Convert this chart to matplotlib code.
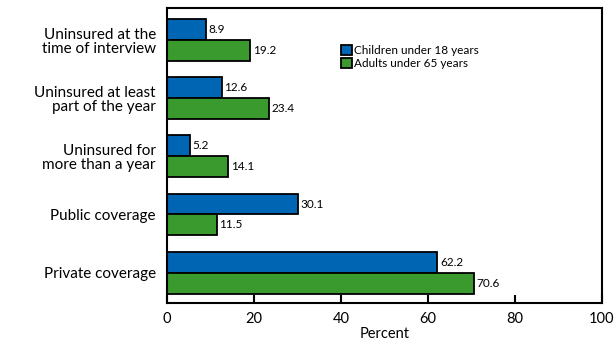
import numpy as np
import matplotlib.pyplot as plt

categories = ['Uninsured at the\ntime of interview',
              'Uninsured at least\npart of the year',
              'Uninsured for\nmore than a year',
              'Public coverage',
              'Private coverage']
children = [8.9, 12.6, 5.2, 30.1, 62.2]
adults = [19.2, 23.4, 14.1, 11.5, 70.6]

plt.rcParams['font.family'] = ['Lato', 'DejaVu Sans']

fig = plt.figure(figsize=(6.16, 3.52), dpi=100)
ax = fig.add_axes([0.271, 0.138, 0.706, 0.839])

y = np.arange(len(categories))
h = 0.36
b1 = ax.barh(y - h / 2, children, height=h, color='#0066b3', edgecolor='black',
             linewidth=1.3, label='Children under 18 years')
b2 = ax.barh(y + h / 2, adults, height=h, color='#3a9a2e', edgecolor='black',
             linewidth=1.3, label='Adults under 65 years')

for bars, vals in [(b1, children), (b2, adults)]:
    for bar, v in zip(bars, vals):
        ax.text(v + 0.6, bar.get_y() + bar.get_height() / 2, str(v),
                va='center', ha='left', fontsize=8.5)

ax.set_xlim(0, 100)
ax.set_ylim(4.53, -0.55)
ax.set_xticks([0, 20, 40, 60, 80, 100])
ax.set_yticks(y)
ax.set_yticklabels(categories, fontsize=11, linespacing=1.0)
ax.tick_params(axis='y', length=0, pad=8)
ax.tick_params(axis='x', direction='in', length=6, width=1.5, labelsize=10.5, pad=6)
for s in ax.spines.values():
    s.set_linewidth(1.5)
ax.set_xlabel('Percent', fontsize=10.5, labelpad=1)

ax.legend(loc='upper left', bbox_to_anchor=(0.39, 0.89), frameon=False,
          fontsize=8.5, handlelength=0.9, handleheight=0.9, handletextpad=0.2,
          labelspacing=0.15, borderaxespad=0)

fig.savefig('out.png', dpi=100)
